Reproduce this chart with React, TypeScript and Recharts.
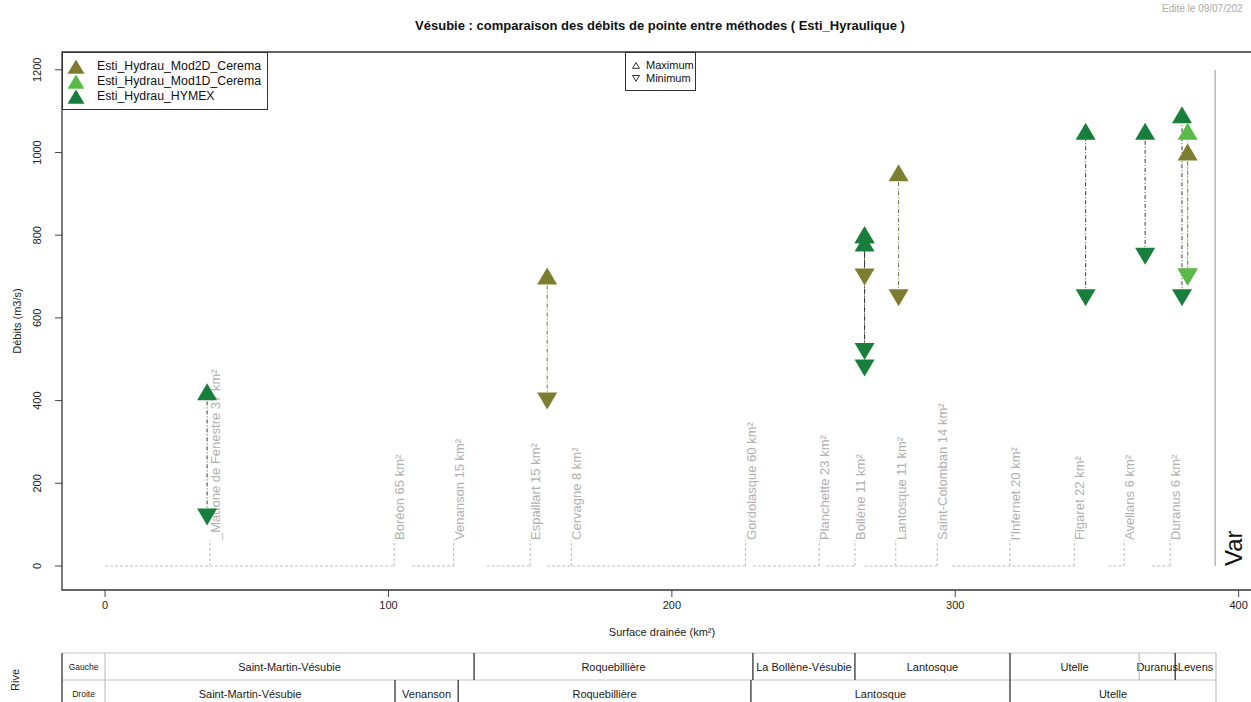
import React from 'react';
import { ComposedChart, XAxis, YAxis, Scatter, ReferenceLine, ReferenceArea } from 'recharts';

const FONT = '"Liberation Sans", Arial, Helvetica, sans-serif';

// Colours of the three estimation methods
const COL_MOD2D = '#7d7d2f';
const COL_MOD1D = '#58bb48';
const COL_HYMEX = '#177f3b';

// Peak discharges (m3/s) per method, placed by drained surface (km²)
const mod2dSurface = [156, 268, 280, 382];
const mod2dMax = [700, 800, 950, 1000];
const mod2dMin = [400, 700, 650, 700];

const mod1dSurface = [382];
const mod1dMax = [1050];
const mod1dMin = [700];

const hymexSurface = [36, 268, 268, 346, 367, 380];
const hymexMax = [420, 800, 780, 1050, 1050, 1090];
const hymexMin = [120, 520, 480, 650, 750, 650];

// Tributaries along the Vésubie main stem
const tributaryNames = [
  '_Madone de Fenestre 37 km²',
  'Boréon 65 km²',
  'Venanson 15 km²',
  'Espaillart 15 km²',
  'Cervagne 8 km²',
  'Gordolasque 60 km²',
  'Planchette 23 km²',
  'Bollène 11 km²',
  'Lantosque 11 km²',
  'Saint-Colomban 14 km²',
  "l'Infernet 20 km²",
  'Figaret 22 km²',
  'Avellans 6 km²',
  'Duranus 6 km²',
];
const tributarySurface = [37, 102, 123, 150, 164.5, 226, 252, 264.6, 279, 293.6, 319.3, 342, 359.6, 375.8];
const tributaryLabelLevel = 63;

// Main stem pieces drawn on the zero line
const stemStart = [0, 108.3, 134.7, 156, 228.6, 254.5, 268, 299, 354, 369.5];
const stemEnd = [102, 123, 150, 226, 252, 264.6, 293.6, 342, 359.6, 375.8];

const varSurface = 391.7;

// Axis ticks
const xTicks = [0, 100, 200, 300, 400];
const yTicks = [0, 200, 400, 600, 800, 1000, 1200];
const xDomain: [number, number] = [-15.2, 410];
const yDomain: [number, number] = [-58, 1243];

// Communes crossed, by bank (boundaries in km² of drained surface)
const riveRows = ['Gauche', 'Droite'];
const gaucheCommunes = ['Saint-Martin-Vésubie', 'Roquebillière', 'La Bollène-Vésubie', 'Lantosque', 'Utelle', 'Duranus', 'Levens'];
const gaucheBounds = [0, 130.2, 228.6, 264.6, 319.3, 364.9, 377.6, 392];
const gaucheDark = [false, true, true, true, true, false, true, false];
const droiteCommunes = ['Saint-Martin-Vésubie', 'Venanson', 'Roquebillière', 'Lantosque', 'Utelle'];
const droiteBounds = [0, 102.3, 124.6, 227.9, 319.3, 392];
const droiteDark = [false, true, true, true, true, false];
const tableLevels = [-210.4, -275.7, -345];

const pairs = (xs: number[], ys: number[]) => xs.map((x, i) => ({ x, y: ys[i] }));

function Tri(props: any) {
  const { cx, cy, fill, dir } = props;
  if (cx == null || cy == null) return null;
  const hw = 10;
  const pts =
    dir === 'up'
      ? `${cx},${cy - 9} ${cx - hw},${cy + 8} ${cx + hw},${cy + 8}`
      : `${cx},${cy + 9} ${cx - hw},${cy - 8} ${cx + hw},${cy - 8}`;
  return <polygon points={pts} fill={fill} />;
}

function TributaryLabel(props: any) {
  const { cx, cy, payload } = props;
  if (cx == null || cy == null) return null;
  const tx = cx + 10;
  return (
    <text
      x={tx}
      y={cy}
      transform={`rotate(-90 ${tx} ${cy})`}
      fontSize={13}
      fill="#b0b0b0"
      fontFamily={FONT}
      textAnchor="start"
    >
      {payload.name}
    </text>
  );
}

function VarLabel(props: any) {
  const { cx, cy } = props;
  if (cx == null || cy == null) return null;
  const tx = cx + 27;
  return (
    <text x={tx} y={cy} transform={`rotate(-90 ${tx} ${cy})`} fontSize={24} fill="#111" fontFamily={FONT}>
      Var
    </text>
  );
}

function XTick(props: any) {
  const { x, y, payload } = props;
  return (
    <text x={x} y={y + 10} textAnchor="middle" fontSize={11} fill="#222" fontFamily={FONT}>
      {payload.value}
    </text>
  );
}

function YTick(props: any) {
  const { x, y, payload } = props;
  const tx = x - 12;
  return (
    <text
      x={tx}
      y={y}
      transform={`rotate(-90 ${tx} ${y})`}
      textAnchor="middle"
      fontSize={11}
      fill="#222"
      fontFamily={FONT}
    >
      {payload.value}
    </text>
  );
}

function CellText(props: any) {
  const { viewBox, text, size } = props;
  if (!viewBox) return null;
  const { x, y, width, height } = viewBox;
  return (
    <text
      x={x + width / 2}
      y={y + height / 2}
      textAnchor="middle"
      dominantBaseline="central"
      fontSize={size}
      fill="#1a1a1a"
      fontFamily={FONT}
    >
      {text}
    </text>
  );
}

function rangeLines(xs: number[], mins: number[], maxs: number[], color: string, key: string) {
  return xs.map((x, i) => (
    <ReferenceLine
      key={`${key}-${i}`}
      segment={[{ x, y: mins[i] }, { x, y: maxs[i] }]}
      stroke={color}
      strokeWidth={1}
      strokeDasharray="1 2 4 2"
      ifOverflow="visible"
    />
  ));
}

function tableRow(names: string[], bounds: number[], dark: boolean[], top: number, bottom: number, label: string) {
  const out: React.ReactNode[] = [];
  out.push(
    <ReferenceArea
      key={`${label}-head`}
      x1={xDomain[0]}
      x2={0}
      y1={bottom}
      y2={top}
      fill="none"
      stroke="none"
      ifOverflow="visible"
      label={<CellText text={label} size={8.5} />}
    />
  );
  names.forEach((n, i) => {
    out.push(
      <ReferenceArea
        key={`${label}-${i}`}
        x1={bounds[i]}
        x2={bounds[i + 1]}
        y1={bottom}
        y2={top}
        fill="none"
        stroke="none"
        ifOverflow="visible"
        label={<CellText text={n} size={11} />}
      />
    );
  });
  bounds.forEach((b, i) => {
    out.push(
      <ReferenceLine
        key={`${label}-v${i}`}
        segment={[{ x: b, y: bottom }, { x: b, y: top }]}
        stroke={dark[i] ? '#222' : '#b5b5b5'}
        strokeWidth={dark[i] ? 1.2 : 1}
        ifOverflow="visible"
      />
    );
  });
  out.push(
    <ReferenceLine
      key={`${label}-left`}
      segment={[{ x: xDomain[0], y: bottom }, { x: xDomain[0], y: top }]}
      stroke="#222"
      strokeWidth={1.2}
      ifOverflow="visible"
    />
  );
  return out;
}

function LegendTri({ color, dir = 'up', size = 18, outline = false }: any) {
  const h = size * 0.85;
  const pts =
    dir === 'up'
      ? `${size / 2},0.5 0.5,${h - 0.5} ${size - 0.5},${h - 0.5}`
      : `0.5,0.5 ${size - 0.5},0.5 ${size / 2},${h - 0.5}`;
  return (
    <svg width={size} height={h} style={{ display: 'block' }}>
      <polygon
        points={pts}
        fill={outline ? 'none' : color}
        stroke={outline ? '#333' : 'none'}
        strokeWidth={outline ? 1 : 0}
      />
    </svg>
  );
}

export default function App() {
  const tribData = tributarySurface.map((x, i) => ({ x, y: tributaryLabelLevel, name: tributaryNames[i] }));
  const methods = [
    { name: 'Esti_Hydrau_Mod2D_Cerema', color: COL_MOD2D },
    { name: 'Esti_Hydrau_Mod1D_Cerema', color: COL_MOD1D },
    { name: 'Esti_Hydrau_HYMEX', color: COL_HYMEX },
  ];

  return (
    <div
      style={{
        position: 'absolute',
        left: 0,
        top: 0,
        width: 1251,
        height: 702,
        overflow: 'hidden',
        background: '#fff',
        fontFamily: FONT,
      }}
    >
      <ComposedChart width={1300} height={702} margin={{ top: 52, right: 33, bottom: 72, left: 22 }}>
        <XAxis
          type="number"
          dataKey="x"
          domain={xDomain}
          ticks={xTicks}
          interval={0}
          allowDataOverflow
          height={40}
          tickSize={7}
          axisLine={false}
          tickLine={{ stroke: '#444' }}
          tick={<XTick />}
        />
        <YAxis
          type="number"
          dataKey="y"
          domain={yDomain}
          ticks={yTicks}
          interval={0}
          allowDataOverflow
          width={40}
          tickSize={7}
          axisLine={false}
          tickLine={{ stroke: '#444' }}
          tick={<YTick />}
        />

        {/* plot frame */}
        <ReferenceArea
          x1={xDomain[0]}
          x2={xDomain[1]}
          y1={yDomain[0]}
          y2={yDomain[1]}
          fill="none"
          stroke="#333"
          strokeWidth={1.3}
          ifOverflow="visible"
        />

        {/* main stem and tributary junctions */}
        {stemStart.map((s, i) => (
          <ReferenceLine
            key={`stem-${i}`}
            segment={[{ x: s, y: 0 }, { x: stemEnd[i], y: 0 }]}
            stroke="#bdbdbd"
            strokeDasharray="3 2"
            ifOverflow="visible"
          />
        ))}
        {tributarySurface.map((x, i) => (
          <ReferenceLine
            key={`trib-${i}`}
            segment={[{ x, y: 0 }, { x, y: tributaryLabelLevel }]}
            stroke="#bdbdbd"
            strokeDasharray="3 2"
            ifOverflow="visible"
          />
        ))}
        <Scatter data={tribData} shape={<TributaryLabel />} isAnimationActive={false} />

        {/* outlet: Var */}
        <ReferenceLine
          segment={[{ x: varSurface, y: 0 }, { x: varSurface, y: 1200 }]}
          stroke="#b8b8b8"
          strokeWidth={1.5}
          ifOverflow="visible"
        />
        <Scatter data={[{ x: varSurface, y: 0 }]} shape={<VarLabel />} isAnimationActive={false} />

        {/* min–max ranges */}
        {rangeLines(mod2dSurface, mod2dMin, mod2dMax, '#6f6f3c', 'm2')}
        {rangeLines(mod1dSurface, mod1dMin, mod1dMax, COL_MOD1D, 'm1')}
        {rangeLines(hymexSurface, hymexMin, hymexMax, '#3a3a3a', 'hy')}

        <Scatter data={pairs(mod2dSurface, mod2dMax)} shape={<Tri fill={COL_MOD2D} dir="up" />} isAnimationActive={false} />
        <Scatter data={pairs(mod2dSurface, mod2dMin)} shape={<Tri fill={COL_MOD2D} dir="down" />} isAnimationActive={false} />
        <Scatter data={pairs(mod1dSurface, mod1dMax)} shape={<Tri fill={COL_MOD1D} dir="up" />} isAnimationActive={false} />
        <Scatter data={pairs(mod1dSurface, mod1dMin)} shape={<Tri fill={COL_MOD1D} dir="down" />} isAnimationActive={false} />
        <Scatter data={pairs(hymexSurface, hymexMax)} shape={<Tri fill={COL_HYMEX} dir="up" />} isAnimationActive={false} />
        <Scatter data={pairs(hymexSurface, hymexMin)} shape={<Tri fill={COL_HYMEX} dir="down" />} isAnimationActive={false} />

        {/* bank / commune table */}
        {tableLevels.map((lv, i) => (
          <ReferenceLine
            key={`tbl-h${i}`}
            segment={[{ x: xDomain[0], y: lv }, { x: 392, y: lv }]}
            stroke="#c4c4c4"
            ifOverflow="visible"
          />
        ))}
        {tableRow(gaucheCommunes, gaucheBounds, gaucheDark, tableLevels[0], tableLevels[1], riveRows[0])}
        {tableRow(droiteCommunes, droiteBounds, droiteDark, tableLevels[1], tableLevels[2], riveRows[1])}
      </ComposedChart>

      {/* titles */}
      <div
        style={{
          position: 'absolute',
          left: 660,
          top: 18,
          transform: 'translateX(-50%)',
          whiteSpace: 'nowrap',
          fontWeight: 'bold',
          fontSize: 13,
          color: '#111',
        }}
      >
        Vésubie : comparaison des débits de pointe entre méthodes ( Esti_Hyraulique )
      </div>
      <div style={{ position: 'absolute', left: 1162, top: 3, fontSize: 10, color: '#aaa', whiteSpace: 'nowrap' }}>
        Edité le 09/07/202
      </div>
      <div
        style={{
          position: 'absolute',
          left: 17,
          top: 321,
          transform: 'translate(-50%, -50%) rotate(-90deg)',
          fontSize: 11,
          color: '#222',
          whiteSpace: 'nowrap',
        }}
      >
        Débits (m3/s)
      </div>
      <div
        style={{
          position: 'absolute',
          left: 662,
          top: 632,
          transform: 'translate(-50%, -50%)',
          fontSize: 11,
          color: '#222',
          whiteSpace: 'nowrap',
        }}
      >
        Surface drainée (km²)
      </div>
      <div
        style={{
          position: 'absolute',
          left: 15,
          top: 680,
          transform: 'translate(-50%, -50%) rotate(-90deg)',
          fontSize: 11,
          color: '#222',
          whiteSpace: 'nowrap',
        }}
      >
        Rive
      </div>

      {/* method legend */}
      <div
        style={{
          position: 'absolute',
          left: 62,
          top: 52,
          width: 206,
          height: 58,
          border: '1.2px solid #333',
          boxSizing: 'border-box',
          background: '#fff',
        }}
      >
        {methods.map((m, i) => (
          <div key={m.name} style={{ position: 'absolute', left: 4, top: 6 + i * 15, display: 'flex', alignItems: 'center' }}>
            <LegendTri color={m.color} size={18} />
            <span style={{ marginLeft: 12, fontSize: 12.3, color: '#111', lineHeight: '15px' }}>{m.name}</span>
          </div>
        ))}
      </div>

      {/* symbol legend */}
      <div
        style={{
          position: 'absolute',
          left: 625,
          top: 52,
          width: 71,
          height: 39,
          border: '1px solid #333',
          boxSizing: 'border-box',
          background: '#fff',
        }}
      >
        {['Maximum', 'Minimum'].map((t, i) => (
          <div key={t} style={{ position: 'absolute', left: 6, top: 6 + i * 13, display: 'flex', alignItems: 'center' }}>
            <LegendTri dir={i === 0 ? 'up' : 'down'} size={8} outline />
            <span style={{ marginLeft: 6, fontSize: 11, color: '#111', lineHeight: '13px' }}>{t}</span>
          </div>
        ))}
      </div>
    </div>
  );
}
